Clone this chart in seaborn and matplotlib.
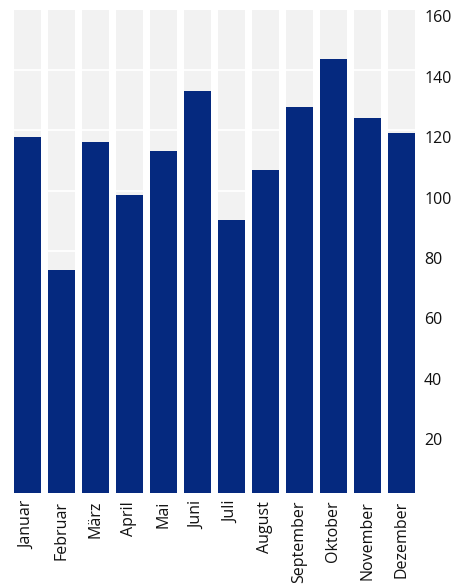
import matplotlib
matplotlib.use("Agg")
import matplotlib.pyplot as plt
import matplotlib.transforms as mtransforms
import seaborn as sns
import pandas as pd

months = ["Januar", "Februar", "März", "April", "Mai", "Juni", "Juli",
          "August", "September", "Oktober", "November", "Dezember"]
values = [117.6, 73.8, 116.0, 98.7, 113.2, 133.1, 90.3, 106.9, 127.8, 143.7, 123.9, 119.2]
y_max = 160
y_ticks = [20, 40, 60, 80, 100, 120, 140, 160]

sns.set_theme(style="white")
plt.rcParams['font.family'] = ['Open Sans', 'DejaVu Sans']

df = pd.DataFrame({"Monat": months, "Wert": values, "Max": [y_max] * len(months)})

fig = plt.figure(figsize=(4.56, 5.86), dpi=100)
ax = fig.add_axes([10.5 / 456, 1 - 492.5 / 586, 408 / 456, 483 / 586])

sns.barplot(data=df, x="Monat", y="Max", color="#f2f2f2", saturation=1,
            width=0.8, ax=ax, zorder=1, linewidth=0)
for t in y_ticks[:-1]:
    ax.axhline(t, color="white", lw=1.3, zorder=2)
sns.barplot(data=df, x="Monat", y="Wert", color="#05297f", saturation=1,
            width=0.8, ax=ax, zorder=3, linewidth=0)

ax.set_xlim(-0.5, len(months) - 0.5)
ax.set_ylim(0, y_max)
ax.set_xlabel("")
ax.set_ylabel("")
ax.yaxis.tick_right()
ax.set_yticks(y_ticks)
ax.tick_params(axis="y", length=0, pad=4, labelsize=11.5, labelcolor="#111111")
ax.tick_params(axis="x", length=0, pad=6, labelsize=11.5, labelcolor="#111111", rotation=90)
offset = mtransforms.ScaledTranslation(0, -7 / 100, fig.dpi_scale_trans)
for lbl in ax.get_yticklabels():
    lbl.set_transform(lbl.get_transform() + offset)
for s in ax.spines.values():
    s.set_visible(False)

fig.savefig("out.png", dpi=100)
